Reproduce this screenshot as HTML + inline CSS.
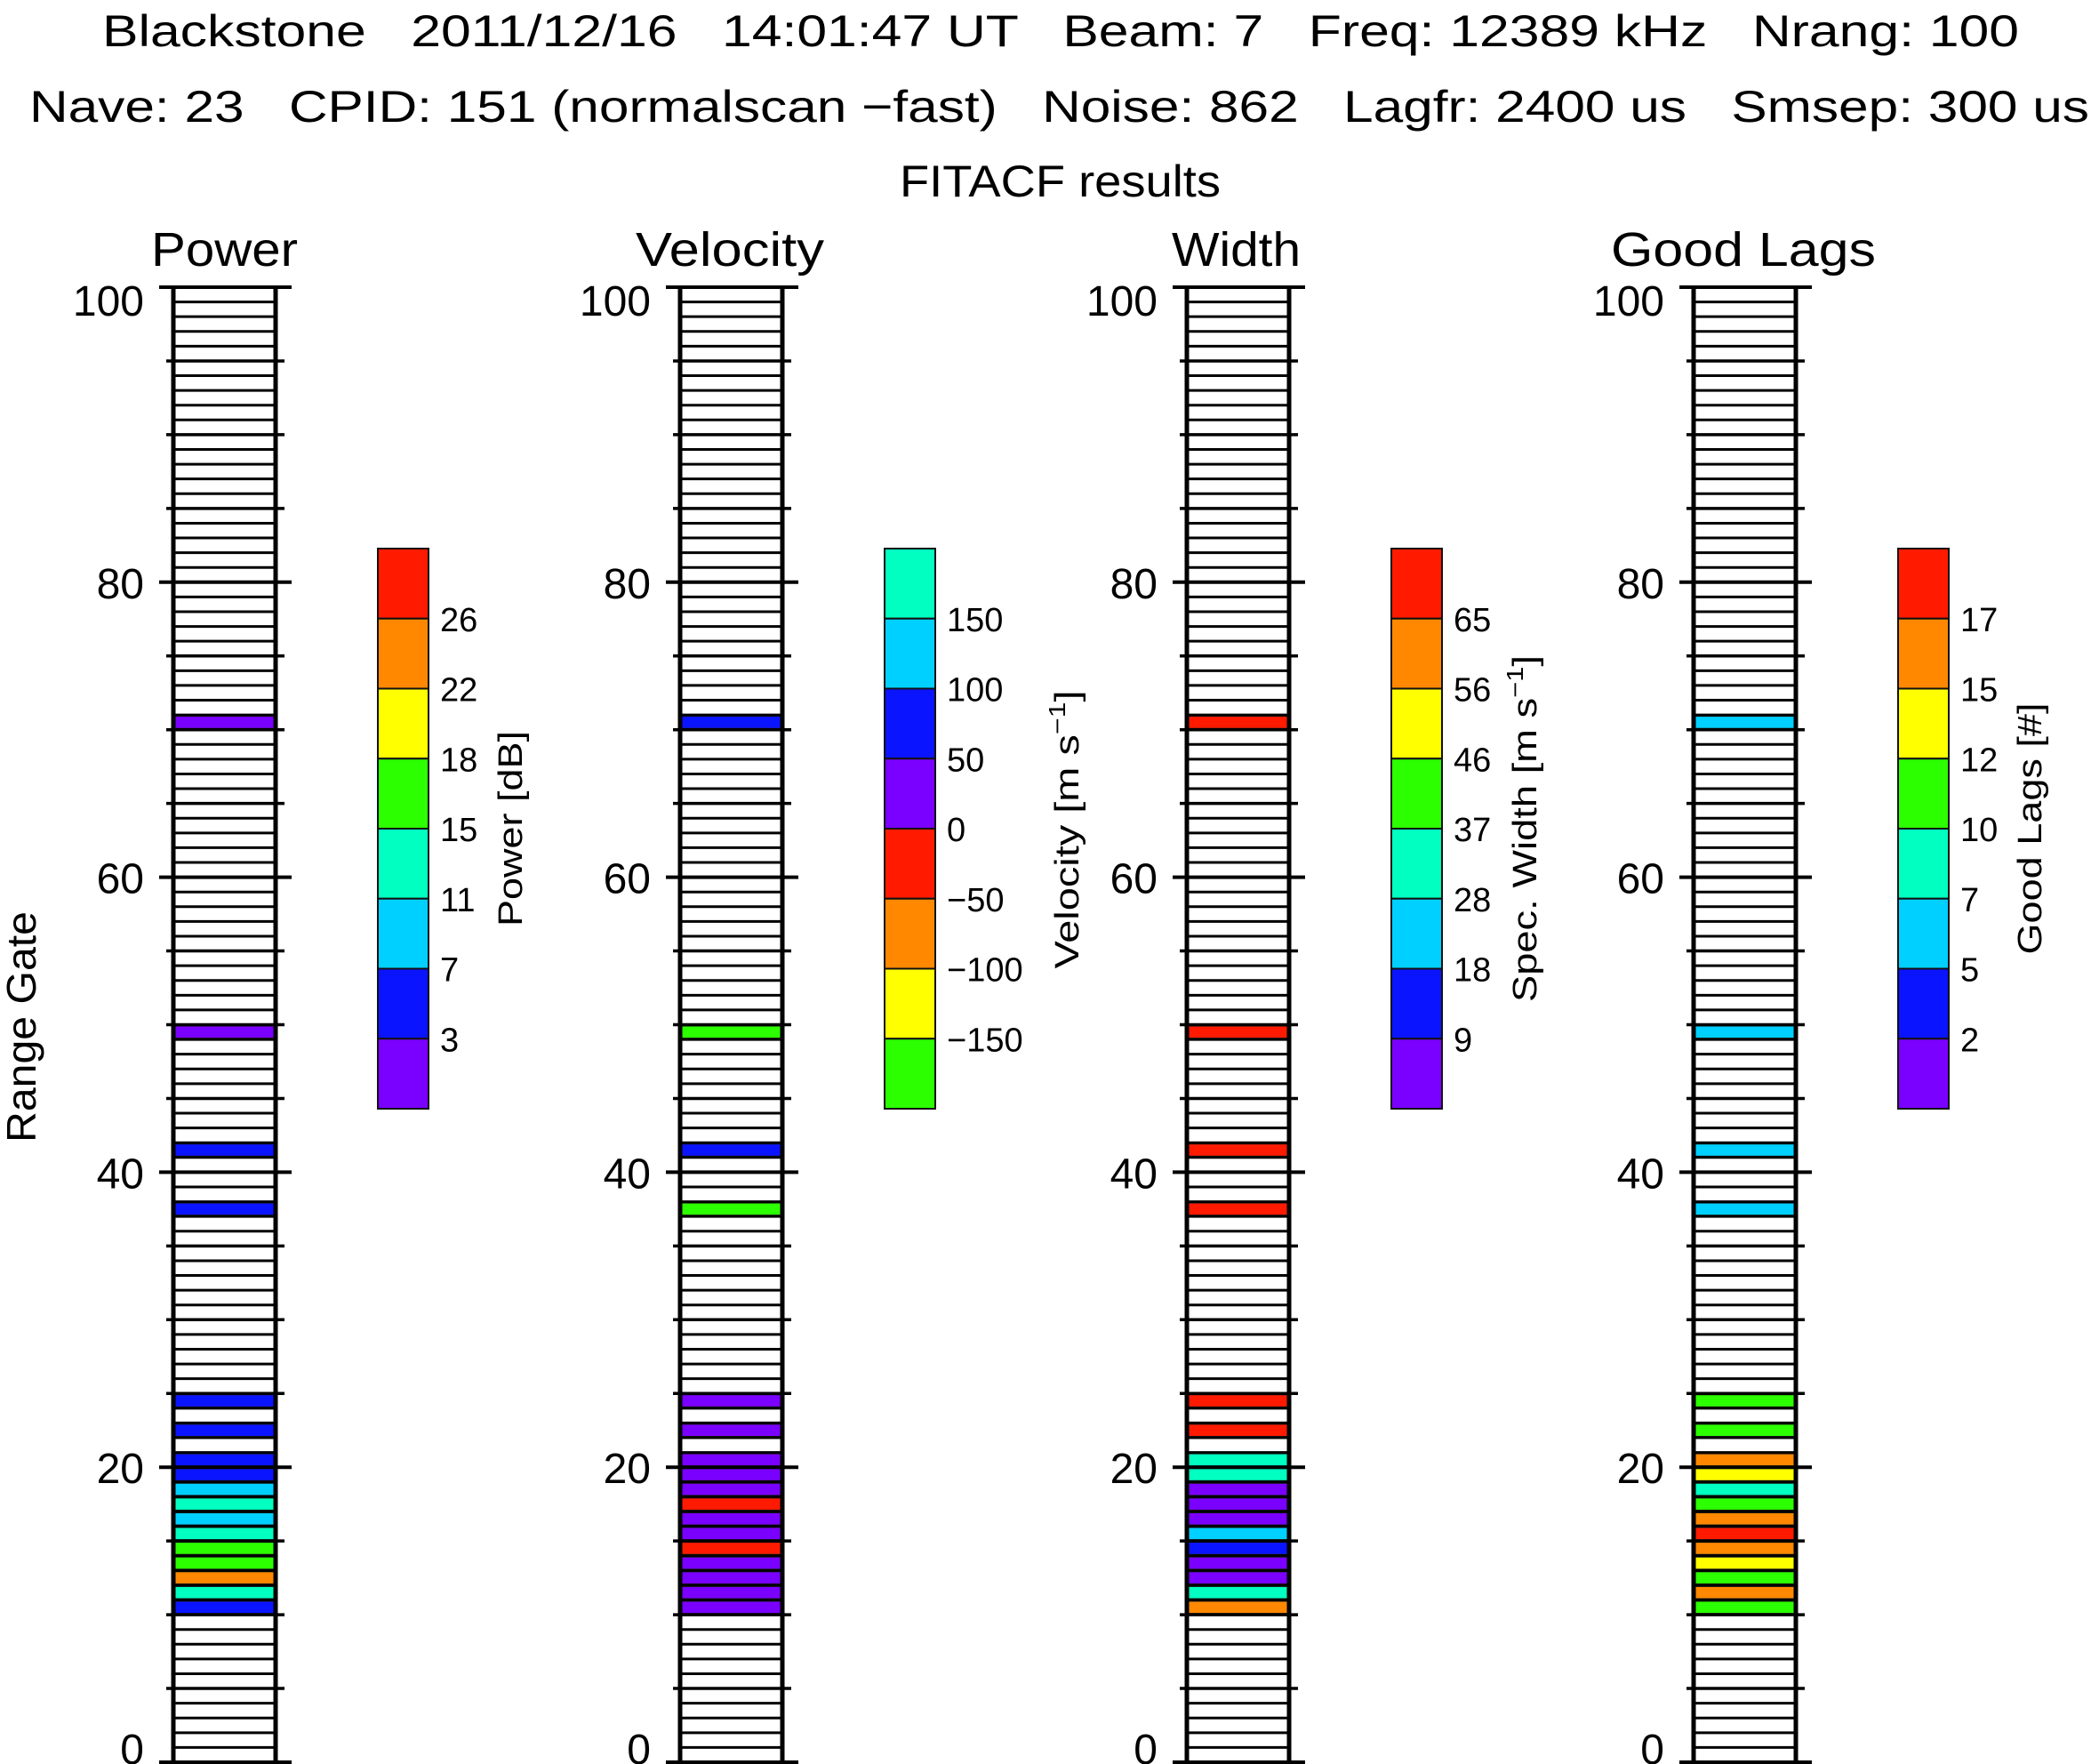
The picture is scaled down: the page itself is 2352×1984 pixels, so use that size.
<!DOCTYPE html>
<html><head><meta charset="utf-8"><style>html,body{margin:0;padding:0;background:#fff}svg{display:block}text{white-space:pre}</style></head>
<body>
<svg id="s" width="2352" height="1984" viewBox="0 0 2352 1984" xmlns="http://www.w3.org/2000/svg" font-family="Liberation Sans, sans-serif" xml:space="preserve">
<rect width="2352" height="1984" fill="#fff"/>
<text x="115" y="52" font-size="50" textLength="2156" lengthAdjust="spacingAndGlyphs">Blackstone   2011/12/16   14:01:47 UT   Beam: 7   Freq: 12389 kHz   Nrang: 100</text>
<text x="33" y="137" font-size="50" textLength="2317" lengthAdjust="spacingAndGlyphs">Nave: 23   CPID: 151 (normalscan −fast)   Noise: 862   Lagfr: 2400 us   Smsep: 300 us</text>
<text x="1012" y="221" font-size="50" textLength="361" lengthAdjust="spacingAndGlyphs">FITACF results</text>
<text x="170" y="299" font-size="54" textLength="165" lengthAdjust="spacingAndGlyphs">Power</text>
<text x="715" y="299" font-size="54" textLength="212" lengthAdjust="spacingAndGlyphs">Velocity</text>
<text x="1318" y="299" font-size="54" textLength="145" lengthAdjust="spacingAndGlyphs">Width</text>
<text x="1812" y="299" font-size="54" textLength="298" lengthAdjust="spacingAndGlyphs">Good Lags</text>
<text transform="translate(40,1155) rotate(-90)" font-size="46" text-anchor="middle" textLength="260" lengthAdjust="spacingAndGlyphs">Range Gate</text>
<g id="g"></g>
</svg>
<script>
var C={p:"#7a00ff",b:"#0a14ff",c:"#00d0ff",t:"#00ffc0",g:"#2cff00",y:"#ffff00",o:"#ff8800",r:"#ff1a00"};
var NS="http://www.w3.org/2000/svg",G=document.getElementById("g");
function el(n,a,t){var e=document.createElementNS(NS,n);for(var k in a)e.setAttribute(k,a[k]);if(t!=null)e.textContent=t;G.appendChild(e);return e;}
var Y0=1982,S=16.59;
var data=[
 {x:195,low:"b t o g g t c t c b b - b - b",ex:{37:"b",41:"b",49:"p",70:"p"}},
 {x:765,low:"p p p p r p p r p p p - p - p",ex:{37:"g",41:"b",49:"g",70:"b"}},
 {x:1335,low:"o t p p b c p p p t t - r - r",ex:{37:"r",41:"r",49:"r",70:"r"}},
 {x:1905,low:"g o g y o r o g t y o - g - g",ex:{37:"c",41:"c",49:"c",70:"c"}}
];
data.forEach(function(d){
 var x=d.x,w=115,arr=d.low.split(" "),m={};
 arr.forEach(function(c,i){if(c!="-")m[10+i]=c;});
 for(var k in d.ex)m[k]=d.ex[k];
 for(var gte in m){var yt=Y0-(+gte+1)*S;el("rect",{x:x,y:yt+1.5,width:w,height:S-3,fill:C[m[gte]],stroke:"#222","stroke-width":1});}
 for(var i=0;i<=100;i++){var y=Y0-i*S;
  if(i%20==0)el("line",{x1:x-16,x2:x+w+18,y1:y,y2:y,stroke:"#000","stroke-width":4});
  else if(i%5==0)el("line",{x1:x-8,x2:x+w+10,y1:y,y2:y,stroke:"#000","stroke-width":3.5});
  else el("line",{x1:x,x2:x+w,y1:y,y2:y,stroke:"#000","stroke-width":3});
  if(i%20==0){var yy=y+18;if(i==100)yy=355;if(i==0)yy=1984;el("text",{x:x-33,y:yy,"font-size":48,"text-anchor":"end"},String(i));}
 }
 el("line",{x1:x,x2:x,y1:Y0-100*S,y2:Y0,stroke:"#000","stroke-width":5});
 el("line",{x1:x+w,x2:x+w,y1:Y0-100*S,y2:Y0,stroke:"#000","stroke-width":5});
});
var cbs=[
 {x:425,cols:"r o y g t c b p",lab:["26","22","18","15","11","7","3"]},
 {x:995,cols:"t c b p r o y g",lab:["150","100","50","0","−50","−100","−150"]},
 {x:1565,cols:"r o y g t c b p",lab:["65","56","46","37","28","18","9"]},
 {x:2135,cols:"r o y g t c b p",lab:["17","15","12","10","7","5","2"]}
];
cbs.forEach(function(cb){
 var h=78.75,top=617;
 cb.cols.split(" ").forEach(function(c,i){el("rect",{x:cb.x,y:top+i*h,width:57,height:h,fill:C[c],stroke:"#111","stroke-width":2});});
 cb.lab.forEach(function(l,i){el("text",{x:cb.x+70,y:top+(i+1)*h+14,"font-size":38},l);});
});
function vlab(cx,cy,html,len){var t=el("text",{transform:"translate("+cx+","+cy+") rotate(-90)","font-size":38,"text-anchor":"middle",textLength:len,lengthAdjust:"spacingAndGlyphs"});t.innerHTML=html;}
vlab(587,932,"Power [dB]",220);
vlab(1213,933,"Velocity [m s<tspan baseline-shift=\"super\" font-size=\"26\">−1</tspan>]",313);
vlab(1728,932,"Spec. Width [m s<tspan baseline-shift=\"super\" font-size=\"26\">−1</tspan>]",390);
vlab(2296,932,"Good Lags [#]",283);
</script>
</body></html>
